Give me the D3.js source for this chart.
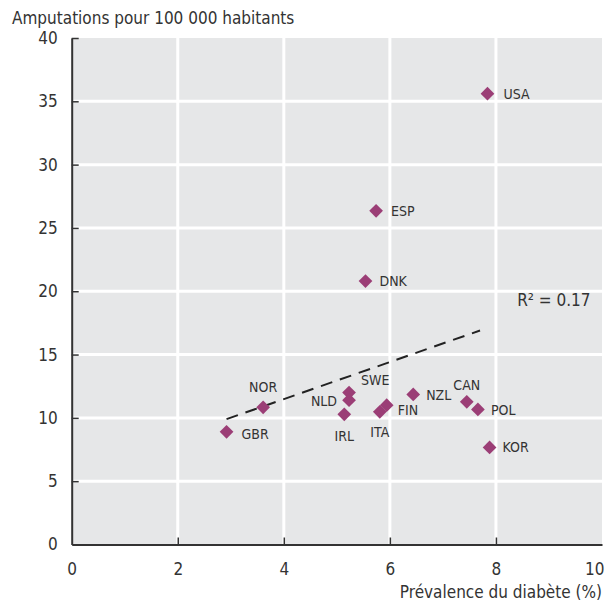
<!DOCTYPE html>
<html>
<head>
<meta charset="utf-8">
<script src="https://cdn.jsdelivr.net/npm/d3@7"></script>
<style>
  body { margin: 0; background: #fff; }
  text { font-family: "DejaVu Sans", sans-serif; font-stretch: condensed; fill: #333; }
</style>
</head>
<body>
<div id="chartContainer"></div>
<script>
// Data
const countries = ["USA", "ESP", "DNK", "NOR", "GBR", "SWE", "NLD", "IRL", "ITA", "FIN", "NZL", "CAN", "POL", "KOR"];
const prevalence = [7.84, 5.74, 5.54, 3.61, 2.92, 5.23, 5.23, 5.14, 5.81, 5.94, 6.44, 7.45, 7.66, 7.88];
const amputations = [35.6, 26.35, 20.8, 10.83, 8.9, 12.0, 11.4, 10.28, 10.48, 11.0, 11.85, 11.27, 10.67, 7.67];
// label placement per country: [dx, dy, anchor]
const labelPos = {
  USA: [16, 0, "start"], ESP: [15, 0, "start"], DNK: [14, 0, "start"],
  NOR: [0, -20, "middle"], GBR: [15, 2, "start"], SWE: [12, -12, "start"],
  NLD: [-12, 1, "end"], IRL: [0, 22, "middle"], ITA: [0, 20, "middle"],
  FIN: [11, 5, "start"], NZL: [13, 1, "start"], CAN: [0, -17, "middle"],
  POL: [13, 1, "start"], KOR: [13, 0, "start"]
};
const trendX = [2.92, 7.7];
const trendY = [9.9, 16.9];
const r2Label = "R² = 0.17";
const xTicks = [0, 2, 4, 6, 8, 10];
const yTicks = [0, 5, 10, 15, 20, 25, 30, 35, 40];

const width = 605;
const height = 603;
const marginTop = 38;
const marginRight = 3;
const marginBottom = 58.5;
const marginLeft = 71.7;

const x = d3.scaleLinear().domain([0, 10]).range([marginLeft, width - marginRight]);
const y = d3.scaleLinear().domain([0, 40]).range([height - marginBottom, marginTop]);

const svg = d3.create("svg")
    .attr("width", width)
    .attr("height", height)
    .attr("viewBox", [0, 0, width, height]);

// Plot background
svg.append("rect")
    .attr("x", x(0))
    .attr("y", y(40))
    .attr("width", x(10) - x(0))
    .attr("height", y(0) - y(40))
    .attr("fill", "#e6e7e8");

// White grid lines
svg.append("g")
    .selectAll("line")
    .data(xTicks.slice(1, -1))
    .join("line")
    .attr("x1", d => x(d)).attr("x2", d => x(d))
    .attr("y1", y(40)).attr("y2", y(0))
    .attr("stroke", "#fff").attr("stroke-width", 3);

svg.append("g")
    .selectAll("line")
    .data(yTicks.slice(1, -1))
    .join("line")
    .attr("x1", x(0)).attr("x2", x(10))
    .attr("y1", d => y(d)).attr("y2", d => y(d))
    .attr("stroke", "#fff").attr("stroke-width", 3);

// Axes with inward ticks
const xAxis = svg.append("g")
    .attr("transform", `translate(0,${y(0)})`)
    .call(d3.axisBottom(x).tickValues(xTicks).tickSize(-7).tickPadding(18).tickSizeOuter(0));
const yAxis = svg.append("g")
    .attr("transform", `translate(${x(0)},0)`)
    .call(d3.axisLeft(y).tickValues(yTicks).tickSize(-7).tickPadding(14).tickSizeOuter(0));

[xAxis, yAxis].forEach(g => {
    g.select(".domain").attr("stroke", "#333").attr("stroke-width", 2);
    g.selectAll(".tick line").attr("stroke", "#333").attr("stroke-width", 1.5);
    g.selectAll(".tick text")
        .attr("font-size", 17)
        .attr("font-family", null)
        .attr("fill", "#333");
});
xAxis.selectAll(".tick").filter(d => d === 0 || d === 10).select("line").remove();
yAxis.selectAll(".tick").filter(d => d === 0).select("line").remove();
// keep the last label inside the page
xAxis.selectAll(".tick").filter(d => d === 10).select("text")
    .attr("text-anchor", "end").attr("x", 2);

// Trend line
svg.append("path")
    .attr("d", d3.line().x(d => x(d[0])).y(d => y(d[1]))(d3.zip(trendX, trendY)))
    .attr("fill", "none")
    .attr("stroke", "#222")
    .attr("stroke-width", 2)
    .attr("stroke-dasharray", "12,8");

svg.append("text")
    .attr("x", x(8.4))
    .attr("y", y(18.85))
    .attr("font-size", 17)
    .text(r2Label);

// Points
const points = d3.zip(countries, prevalence, amputations);
const diamond = d3.symbol().type(d3.symbolDiamond2).size(120);

svg.append("g")
    .selectAll("path")
    .data(points)
    .join("path")
    .attr("transform", d => `translate(${x(d[1])},${y(d[2])})`)
    .attr("d", diamond)
    .attr("fill", "#9b3e76");

svg.append("g")
    .selectAll("text")
    .data(points)
    .join("text")
    .attr("x", d => x(d[1]) + labelPos[d[0]][0])
    .attr("y", d => y(d[2]) + labelPos[d[0]][1])
    .attr("dy", "0.35em")
    .attr("text-anchor", d => labelPos[d[0]][2])
    .attr("font-size", 14)
    .text(d => d[0]);

// Axis titles
svg.append("text")
    .attr("x", 12)
    .attr("y", 24)
    .attr("font-size", 17)
    .text("Amputations pour 100 000 habitants");

svg.append("text")
    .attr("x", width - 3)
    .attr("y", 598)
    .attr("text-anchor", "end")
    .attr("font-size", 17)
    .text("Prévalence du diabète (%)");

document.getElementById('chartContainer').appendChild(svg.node());
</script>
</body>
</html>
